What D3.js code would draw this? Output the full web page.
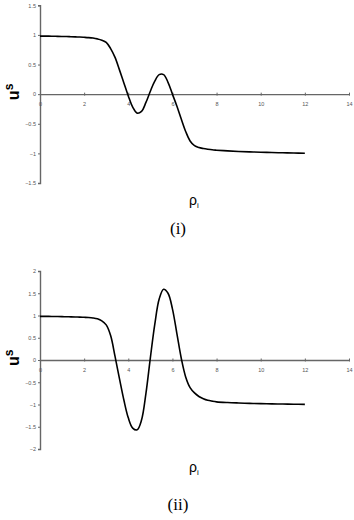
<!DOCTYPE html>
<html><head><meta charset="utf-8">
<script src="https://cdn.jsdelivr.net/npm/d3@7"></script>
<style>body{margin:0;background:#fff}svg{display:block}</style>
</head><body>
<script>
const xs = [0,0.2,0.4,0.6,0.8,1.0,1.2,1.4,1.6,1.8,2.0,2.2,2.4,2.6,2.8,3.0,3.2,3.4,3.6,3.8,4.0,4.2,4.4,4.6,4.8,5.0,5.2,5.4,5.6,5.8,6.0,6.2,6.4,6.6,6.8,7.0,7.2,7.4,7.6,7.8,8.0,8.5,9.0,9.5,10.0,10.5,11.0,11.5,12.0];
const u1 = [0.98,0.98,0.98,0.978,0.976,0.974,0.972,0.97,0.967,0.964,0.96,0.955,0.947,0.933,0.912,0.875,0.77,0.62,0.41,0.19,-0.03,-0.22,-0.32,-0.29,-0.14,0.05,0.22,0.33,0.33,0.2,0.0,-0.2,-0.42,-0.63,-0.79,-0.87,-0.902,-0.918,-0.93,-0.94,-0.946,-0.958,-0.967,-0.974,-0.98,-0.985,-0.99,-0.994,-0.997];
const u2 = [0.98,0.98,0.98,0.978,0.976,0.974,0.972,0.97,0.967,0.964,0.96,0.955,0.945,0.925,0.88,0.79,0.55,0.08,-0.42,-0.9,-1.3,-1.53,-1.57,-1.35,-0.75,0.05,0.8,1.37,1.59,1.5,1.15,0.6,0.04,-0.38,-0.62,-0.74,-0.82,-0.87,-0.905,-0.925,-0.94,-0.956,-0.966,-0.974,-0.98,-0.985,-0.99,-0.994,-0.997];
const xTicks = [0,2,4,6,8,10,12,14];
const yTicks1 = [-1.5,-1,-0.5,0,0.5,1,1.5];
const yTicks2 = [-2,-1.5,-1,-0.5,0,0.5,1,1.5,2];
const captions = ["(i)","(ii)"];

const svg = d3.select("body").append("svg").attr("width",354).attr("height",520);

function panel(vals, yTicks, yDom, yRange, rhoY, capY, cap){
  const g = svg.append("g");
  const x = d3.scaleLinear().domain([0,14]).range([40,349]);
  const y = d3.scaleLinear().domain(yDom).range(yRange);
  const ya = g.append("g").attr("transform","translate(40,0)")
    .call(d3.axisLeft(y).tickValues(yTicks).tickSize(2).tickPadding(2).tickFormat(d3.format("")));
  ya.select(".domain").attr("stroke","#666").attr("stroke-width",1.4);
  ya.selectAll(".tick line").attr("stroke","#666");
  ya.selectAll("text").attr("font-size",5.5).attr("font-family","Arial, Liberation Sans, sans-serif").attr("fill","#555");
  const xa = g.append("g").attr("transform",`translate(0,${y(0)})`)
    .call(d3.axisBottom(x).tickValues(xTicks).tickSizeInner(2).tickSizeOuter(0).tickPadding(6).tickFormat(d3.format("")));
  xa.select(".domain").attr("stroke","#666").attr("stroke-width",1.4);
  xa.selectAll(".tick line").attr("stroke","#666").attr("y1",-1.5).attr("y2",1.5);
  xa.selectAll("text").attr("font-size",5.5).attr("font-family","Arial, Liberation Sans, sans-serif").attr("fill","#555");
  const line = d3.line().x((d,i)=>x(xs[i])).y(d=>y(d)).curve(d3.curveCatmullRom.alpha(0.5));
  g.append("path").datum(vals).attr("d",line).attr("fill","none").attr("stroke","#000").attr("stroke-width",1.6);
  const yl = g.append("text").attr("transform",`translate(19,${y(0)+6}) rotate(-90)`)
    .attr("font-family","Arial, Liberation Sans, sans-serif").attr("font-weight","bold").attr("font-size",16).attr("fill","#000");
  yl.append("tspan").text("u");
  yl.append("tspan").attr("dy",-6).attr("font-size",12).attr("fill","#000").text("s");
  const xl = g.append("text").attr("x",189).attr("y",rhoY)
    .attr("font-family","Arial, Liberation Sans, sans-serif").attr("font-size",14).attr("fill","#000");
  xl.append("tspan").text("ρ");
  xl.append("tspan").attr("dy",3).attr("font-size",8).attr("fill","#000").text("i");
  g.append("text").attr("x",178).attr("y",capY).attr("text-anchor","middle")
    .attr("font-family","Liberation Serif, Times New Roman, serif").attr("font-size",17).attr("fill","#000").text(cap);
}
panel(u1, yTicks1, [-1.5,1.5], [183,5.3], 205, 234, captions[0]);
panel(u2, yTicks2, [-2,2], [449,271], 472, 510, captions[1]);
</script>
</body></html>
